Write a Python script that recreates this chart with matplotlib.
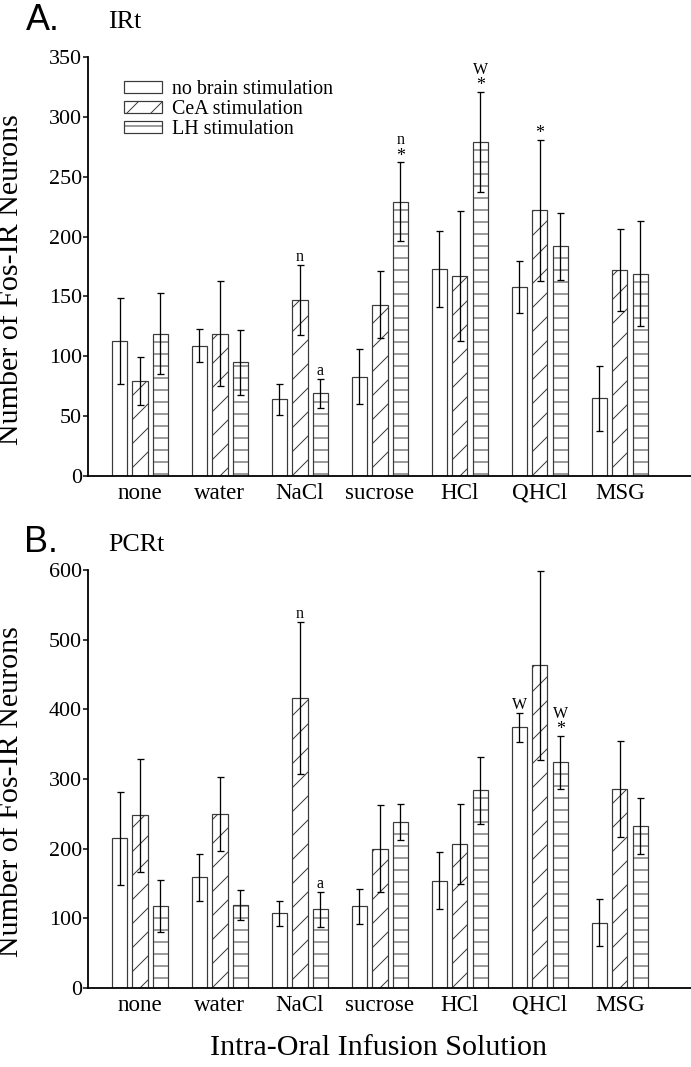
import matplotlib
matplotlib.use("Agg")
import matplotlib.pyplot as plt
import numpy as np

plt.rcParams["font.family"] = ["Liberation Serif", "DejaVu Serif"]
plt.rcParams["hatch.linewidth"] = 1.0

categories = ["none", "water", "NaCl", "sucrose", "HCl", "QHCl", "MSG"]
series = ["no brain stimulation", "CeA stimulation", "LH stimulation"]

# Panel A: IRt
irt_none = [113, 109, 64, 83, 173, 158, 65]
irt_none_err = [36, 14, 13, 23, 32, 22, 27]
irt_cea = [79, 119, 147, 143, 167, 222, 172]
irt_cea_err = [20, 44, 29, 28, 54, 59, 34]
irt_lh = [119, 95, 69, 229, 279, 192, 169]
irt_lh_err = [34, 27, 12, 33, 42, 28, 44]

# Panel B: PCRt
pcrt_none = [215, 159, 107, 117, 154, 374, 94]
pcrt_none_err = [67, 34, 18, 25, 41, 21, 34]
pcrt_cea = [248, 250, 416, 200, 207, 463, 286]
pcrt_cea_err = [81, 53, 109, 62, 57, 136, 69]
pcrt_lh = [118, 119, 113, 238, 284, 324, 233]
pcrt_lh_err = [37, 21, 25, 26, 48, 38, 40]

# significance marks: (category index, series index, marks bottom -> top)
irt_marks = [(2, 1, ["n"]), (2, 2, ["a"]), (3, 2, ["*", "n"]),
             (4, 2, ["*", "W"]), (5, 1, ["*"])]
pcrt_marks = [(2, 1, ["n"]), (2, 2, ["a"]), (5, 0, ["W"]), (5, 2, ["*", "W"])]

HATCHES = ["", "/", "-"]
EDGE = "#3a3a3a"
W, H, DPI = 691, 1067, 72


def draw_panel(ax, data, marks, ymax, ystep):
    x = np.arange(len(categories))
    offs = [-0.256, 0.0, 0.256]
    handles = []
    for k, (vals, errs) in enumerate(data):
        b = ax.bar(x + offs[k], vals, width=0.19, color="white",
                   edgecolor=EDGE, linewidth=1.2, hatch=HATCHES[k],
                   label=series[k], zorder=2)
        ax.errorbar(x + offs[k], vals, yerr=errs, fmt="none", ecolor="black",
                    elinewidth=1.3, capsize=3.5, capthick=1.3, zorder=3)
        handles.append(b)
    for ci, si, texts in marks:
        vals, errs = data[si]
        top = vals[ci] + errs[ci]
        off = 6 if texts[0] == "*" else 8
        for t in texts:
            ax.annotate(t, xy=(ci + offs[si], top), xytext=(0, off),
                        textcoords="offset points", ha="center", va="center",
                        fontsize=18 if t == "*" else 16)
            off += 16
    ax.set_ylim(0, ymax)
    ax.set_xlim(-0.65, 6.89)
    ax.set_yticks(np.arange(0, ymax + 1, ystep))
    ax.set_xticks(x)
    ax.set_xticklabels(categories)
    ax.spines["top"].set_visible(False)
    ax.spines["right"].set_visible(False)
    ax.spines["left"].set_linewidth(1.8)
    ax.spines["bottom"].set_linewidth(1.8)
    ax.tick_params(axis="y", length=5, width=1.5, labelsize=22, pad=1)
    ax.tick_params(axis="x", length=0, labelsize=23, pad=7)
    ax.set_ylabel("Number of Fos-IR Neurons", fontsize=30)
    ax.yaxis.set_label_coords(-0.106, 0.47)
    return handles


fig = plt.figure(figsize=(W / DPI, H / DPI), dpi=DPI)

left = 88 / W
width = 1 - left
axA = fig.add_axes([left, 1 - 476 / H, width, (476 - 57) / H])
axB = fig.add_axes([left, 1 - 988 / H, width, (988 - 570) / H])

hA = draw_panel(axA,
                [(irt_none, irt_none_err), (irt_cea, irt_cea_err), (irt_lh, irt_lh_err)],
                irt_marks, 350, 50)
draw_panel(axB,
           [(pcrt_none, pcrt_none_err), (pcrt_cea, pcrt_cea_err), (pcrt_lh, pcrt_lh_err)],
           pcrt_marks, 600, 100)

axA.legend(handles=hA, labels=series, frameon=False, loc="upper left",
           bbox_to_anchor=(0.06, 0.945), fontsize=20, handlelength=1.9,
           handleheight=0.55, handletextpad=0.5, labelspacing=0.05,
           borderpad=0, borderaxespad=0)

fig.text(26 / W, 1 - 20 / H, "A.", family="Liberation Sans", fontsize=36,
         ha="left", va="center")
fig.text(108 / W, 1 - 22 / H, "IRt", fontsize=26, ha="left", va="center")
fig.text(24 / W, 1 - 543 / H, "B.", family="Liberation Sans", fontsize=36,
         ha="left", va="center")
fig.text(108 / W, 1 - 545 / H, "PCRt", fontsize=26, ha="left", va="center")
fig.text(378 / W, 1 - 1048 / H, "Intra-Oral Infusion Solution", fontsize=30,
         ha="center", va="center")

fig.savefig("out.png", dpi=DPI)
